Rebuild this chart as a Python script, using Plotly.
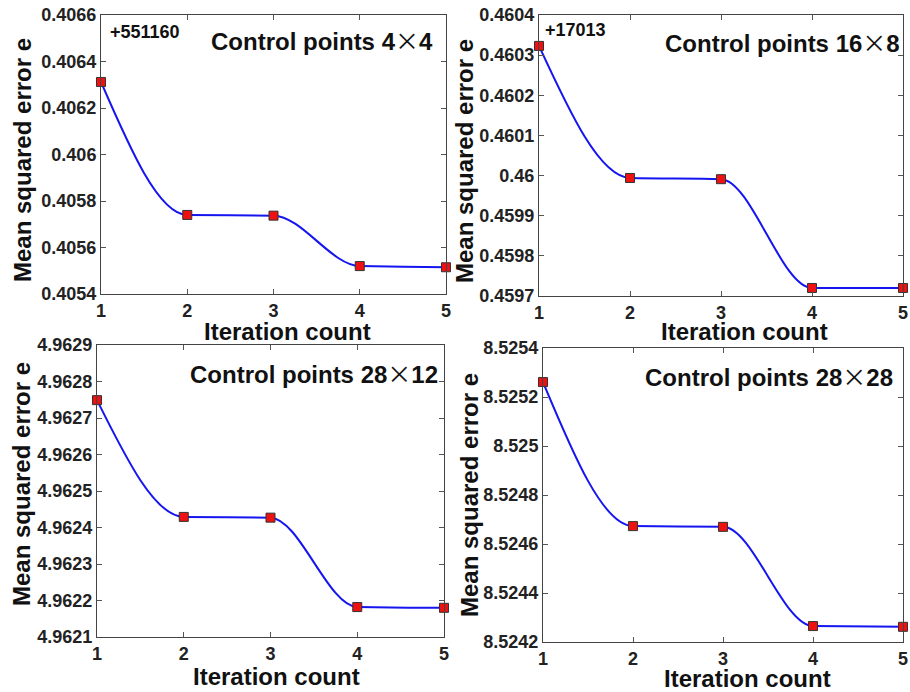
import plotly.graph_objects as go

# ---- data ----
iterations = [1, 2, 3, 4, 5]

mse_4x4 = [0.406312, 0.405740, 0.405737, 0.405520, 0.405515]
mse_16x8 = [0.460323, 0.459994, 0.459991, 0.459720, 0.459720]
mse_28x12 = [4.962749, 4.962429, 4.962427, 4.962182, 4.962180]
mse_28x28 = [8.525261, 8.524673, 8.524670, 8.524265, 8.524262]

titles = ["Control points 4", "Control points 16", "Control points 28", "Control points 28"]
title_b = ["4", "8", "12", "28"]
offsets = ["+551160", "+17013", "", ""]

yticks_4x4 = [0.4054, 0.4056, 0.4058, 0.4060, 0.4062, 0.4064, 0.4066]
ytext_4x4 = ["0.4054", "0.4056", "0.4058", "0.406", "0.4062", "0.4064", "0.4066"]
yticks_16x8 = [0.4597, 0.4598, 0.4599, 0.4600, 0.4601, 0.4602, 0.4603, 0.4604]
ytext_16x8 = ["0.4597", "0.4598", "0.4599", "0.46", "0.4601", "0.4602", "0.4603", "0.4604"]
yticks_28x12 = [4.9621, 4.9622, 4.9623, 4.9624, 4.9625, 4.9626, 4.9627, 4.9628, 4.9629]
ytext_28x12 = ["4.9621", "4.9622", "4.9623", "4.9624", "4.9625", "4.9626", "4.9627", "4.9628", "4.9629"]
yticks_28x28 = [8.5242, 8.5244, 8.5246, 8.5248, 8.5250, 8.5252, 8.5254]
ytext_28x28 = ["8.5242", "8.5244", "8.5246", "8.5248", "8.525", "8.5252", "8.5254"]

xticks = [1, 2, 3, 4, 5]
x_label = "Iteration count"
y_label = "Mean squared error e"

series = [mse_4x4, mse_16x8, mse_28x12, mse_28x28]
ytick_sets = [(yticks_4x4, ytext_4x4), (yticks_16x8, ytext_16x8),
              (yticks_28x12, ytext_28x12), (yticks_28x28, ytext_28x28)]


def pchip_slopes(x, y):
    """Shape-preserving (Fritsch-Carlson) tangents used to draw the smooth line."""
    n = len(x)
    h = [x[k + 1] - x[k] for k in range(n - 1)]
    d = [(y[k + 1] - y[k]) / h[k] for k in range(n - 1)]
    m = [0.0] * n
    for k in range(1, n - 1):
        if d[k - 1] * d[k] > 0:
            w1 = 2 * h[k] + h[k - 1]
            w2 = h[k] + 2 * h[k - 1]
            m[k] = (w1 + w2) / (w1 / d[k - 1] + w2 / d[k])

    def end(h0, h1, d0, d1):
        s = ((2 * h0 + h1) * d0 - h0 * d1) / (h0 + h1)
        if s * d0 <= 0:
            return 0.0
        if d0 * d1 <= 0 and abs(s) > abs(3 * d0):
            return 3 * d0
        return s
    m[0] = end(h[0], h[1], d[0], d[1])
    m[-1] = end(h[-1], h[-2], d[-1], d[-2])
    return m


def smooth_path(x, y):
    m = pchip_slopes(x, y)
    parts = [f"M {x[0]},{y[0]}"]
    for k in range(len(x) - 1):
        hk = x[k + 1] - x[k]
        c1 = (x[k] + hk / 3, y[k] + m[k] * hk / 3)
        c2 = (x[k + 1] - hk / 3, y[k + 1] - m[k + 1] * hk / 3)
        parts.append(f"C {c1[0]},{c1[1]} {c2[0]},{c2[1]} {x[k + 1]},{y[k + 1]}")
    return " ".join(parts)


# ---- layout geometry (page pixels; body margin removed so figure = page) ----
W, H = 910, 692


def px(x):
    return x / W


def py(y):
    return 1 - y / H


boxes = [  # left, right, top, bottom in page px
    (101, 446, 15, 294),
    (539, 903, 15, 296),
    (97, 444, 345, 637),
    (543, 903, 348, 642),
]
title_pos = [(435, 39), (902, 41), (440, 372), (895, 376)]
off_pos = [(108, 32), (543, 30)]
xlab_pos = [(287, 332), (744, 332), (276, 676), (747, 678)]
ylab_pos = [(22, 160), (464, 161), (21, 484), (469, 495)]

FONT = "Liberation Sans"
fig = go.Figure()
layout = dict(
    width=W, height=H, margin=dict(l=0, r=0, t=0, b=0, autoexpand=False),
    paper_bgcolor="white", plot_bgcolor="white", showlegend=False,
    annotations=[], shapes=[],
)
label_font = dict(family=FONT, size=24, color="#111111", weight="bold")

for i, ys in enumerate(series):
    n = "" if i == 0 else str(i + 1)
    L, R, T, B = boxes[i]
    layout["shapes"].append(dict(
        type="path", xref="x" + n, yref="y" + n, layer="below",
        path=smooth_path(iterations, ys),
        line=dict(color="#1515f0", width=2),
    ))
    fig.add_trace(go.Scatter(
        x=iterations, y=ys, mode="markers",
        xaxis="x" + n, yaxis="y" + n, cliponaxis=False,
        marker=dict(symbol="square", size=9, color="#ee1111",
                    line=dict(color="#333333", width=1)),
    ))
    tv, tt = ytick_sets[i]
    axcommon = dict(showline=True, linecolor="#444444", linewidth=1, mirror="allticks",
                    ticks="inside", ticklen=5, tickcolor="#555555", showgrid=False,
                    zeroline=False, automargin=False, ticklabeloverflow="allow",
                    tickfont=dict(family=FONT, size=18, color="#222222", weight="bold"))
    layout["xaxis" + n] = dict(
        domain=[px(L), min(px(R), 1.0)], anchor="y" + n, range=[1, 5],
        tickvals=xticks, ticktext=[str(v) for v in xticks], **axcommon)
    layout["yaxis" + n] = dict(
        domain=[py(B), py(T)], anchor="x" + n,
        range=[tv[0], tv[-1]], tickvals=tv, ticktext=tt, **axcommon)

    # axis titles
    xx, xy = xlab_pos[i]
    layout["annotations"].append(dict(
        xref="paper", yref="paper", x=px(xx), y=py(xy), xanchor="center", yanchor="middle",
        showarrow=False, text=x_label, font=label_font))
    yx, yy = ylab_pos[i]
    layout["annotations"].append(dict(
        xref="paper", yref="paper", x=px(yx), y=py(yy), xanchor="center", yanchor="middle",
        showarrow=False, text=y_label, textangle=-90, font=label_font))

    # panel title
    tx, ty = title_pos[i]
    layout["annotations"].append(dict(
        xref="paper", yref="paper", x=px(tx), y=py(ty),
        xanchor="right", yanchor="middle", showarrow=False,
        text=titles[i] + "<span style=\"font-family:'Noto Sans CJK SC';font-weight:normal\">×</span>" + title_b[i],
        font=dict(family=FONT, size=24, color="#111111", weight="bold")))
    if offsets[i]:
        ox, oy = off_pos[i]
        layout["annotations"].append(dict(
            xref="paper", yref="paper", x=px(ox), y=py(oy),
            xanchor="left", yanchor="middle", showarrow=False,
            text=offsets[i],
            font=dict(family=FONT, size=18, color="#111111", weight="bold")))

fig.update_layout(**layout)
fig.write_html("out.html", config={"displayModeBar": False},
               post_script="document.body.style.margin='0';document.body.style.overflow='hidden';")
